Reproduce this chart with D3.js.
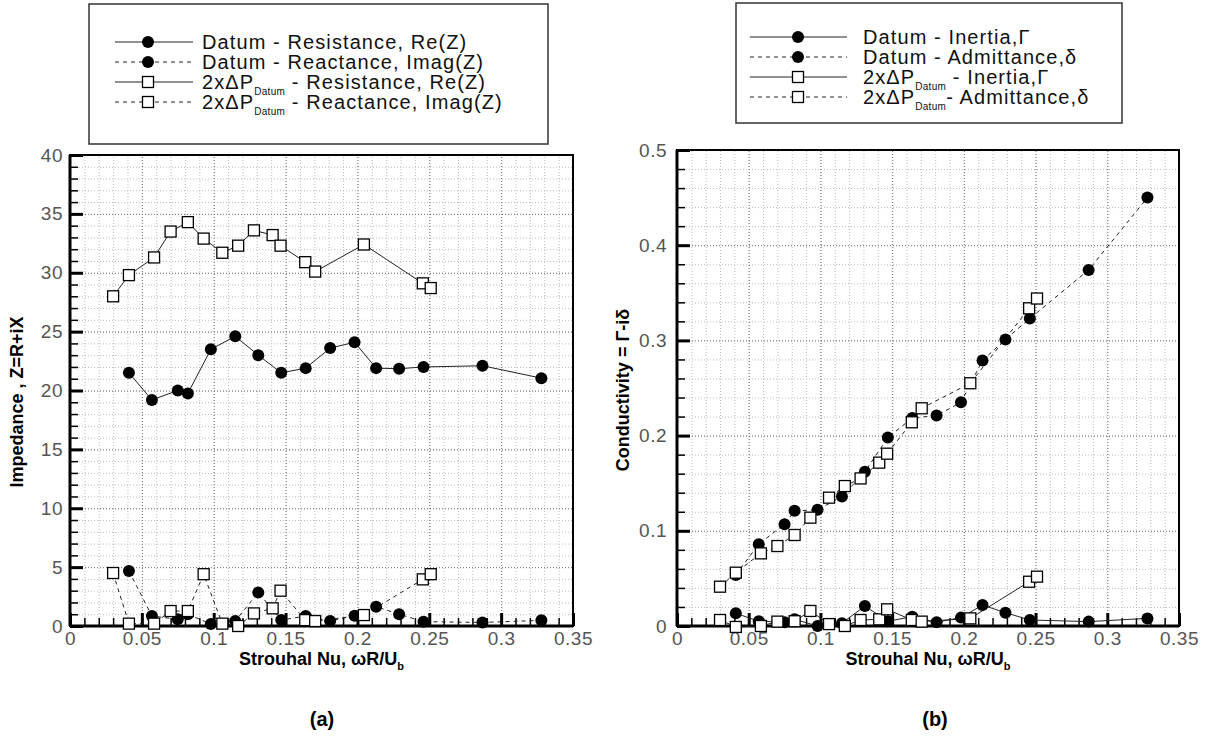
<!DOCTYPE html>
<html lang="en">
<head>
<meta charset="UTF-8">
<title>Impedance and Conductivity vs Strouhal</title>
<script src="https://cdn.jsdelivr.net/npm/d3@7/dist/d3.min.js"></script>
<style>
  body { margin: 0; background: #fff; }
  svg text { font-family: "Liberation Sans", Arial, sans-serif; }
</style>
</head>
<body>
<div id="container"></div>
<script>
// Datum case, Strouhal numbers
const stDatum = [0.041, 0.057, 0.075, 0.082, 0.098, 0.115, 0.131, 0.147, 0.164, 0.181, 0.198, 0.213, 0.229, 0.246, 0.287, 0.328];
const resDatum = [21.5, 19.2, 20.0, 19.75, 23.5, 24.6, 23.0, 21.5, 21.9, 23.6, 24.1, 21.9, 21.85, 22.0, 22.1, 21.05];
const reacDatum = [4.67, 0.85, 0.57, 1.0, 0.17, 0.42, 2.85, 0.5, 0.85, 0.42, 0.88, 1.64, 1.0, 0.37, 0.3, 0.48];
const inertiaDatum = [0.0133, 0.005, 0.004, 0.007, 0.0, 0.003, 0.021, 0.005, 0.0098, 0.004, 0.0088, 0.022, 0.014, 0.0063, 0.0046, 0.008];
const admitDatum = [0.0536, 0.086, 0.107, 0.121, 0.122, 0.136, 0.162, 0.198, 0.2185, 0.221, 0.235, 0.279, 0.301, 0.323, 0.374, 0.450];

// 2x dP_Datum case
const st2x = [0.030, 0.041, 0.0585, 0.070, 0.082, 0.093, 0.106, 0.117, 0.128, 0.141, 0.1465, 0.1637, 0.1706, 0.2045, 0.2455, 0.251];
const res2x = [28.0, 29.8, 31.3, 33.5, 34.3, 32.9, 31.7, 32.3, 33.6, 33.2, 32.3, 30.9, 30.1, 32.4, 29.1, 28.7];
const reac2x = [4.5, 0.2, 0.2, 1.27, 1.27, 4.4, 0.2, 0.0, 1.07, 1.5, 3.0, 0.5, 0.42, 0.93, 3.96, 4.4];
const inertia2x = [0.0063, -0.001, 0.0, 0.0046, 0.005, 0.0158, 0.002, 0.0, 0.0063, 0.007, 0.0175, 0.0063, 0.0046, 0.008, 0.0465, 0.0518];
const admit2x = [0.0413, 0.056, 0.0763, 0.084, 0.0956, 0.1138, 0.1348, 0.147, 0.155, 0.1716, 0.181, 0.214, 0.2287, 0.255, 0.3337, 0.344];

// tick values
const xTicks = [0, 0.05, 0.1, 0.15, 0.2, 0.25, 0.3, 0.35];
const xMinor = d3.range(0, 0.3501, 0.01);
const yTicksA = [0, 5, 10, 15, 20, 25, 30, 35, 40];
const yMinorA = d3.range(0, 40.01, 1);
const yTicksB = [0, 0.1, 0.2, 0.3, 0.4, 0.5];
const yMinorB = d3.range(0, 0.5001, 0.02);

const svg = d3.select('#container').append('svg')
    .attr('width', 1210).attr('height', 744);

function zip(xs, ys) { return xs.map((x, i) => ({ x: x, y: ys[i] })); }

function panel(o) {
    let x = d3.scaleLinear().domain([0, 0.35]).range([o.left, o.right]);
    let y = d3.scaleLinear().domain([0, o.ymax]).range([o.bottom, o.top]);
    let w = o.right - o.left, h = o.bottom - o.top;
    let g = svg.append('g');

    // grid
    let grid = (axis, cls, tr) => g.append('g').attr('transform', tr).call(axis)
        .call(s => s.select('.domain').remove())
        .call(s => s.selectAll('.tick line').attr('stroke', cls.c).attr('stroke-dasharray', cls.d));
    let minorStyle = { c: '#bdbdbd', d: '1,2' }, majorStyle = { c: '#777', d: '1,2' };
    grid(d3.axisBottom(x).tickValues(xMinor).tickSize(-h).tickFormat(''), minorStyle, `translate(0,${o.bottom})`);
    grid(d3.axisLeft(y).tickValues(o.yMinor).tickSize(-w).tickFormat(''), minorStyle, `translate(${o.left},0)`);
    grid(d3.axisBottom(x).tickValues(xTicks).tickSize(-h).tickFormat(''), majorStyle, `translate(0,${o.bottom})`);
    grid(d3.axisLeft(y).tickValues(o.yTicks).tickSize(-w).tickFormat(''), majorStyle, `translate(${o.left},0)`);

    // inward ticks
    let ticks = (axis, tr, sw) => g.append('g').attr('transform', tr).call(axis)
        .call(s => s.select('.domain').remove())
        .call(s => s.selectAll('.tick line').attr('stroke', '#000').attr('stroke-width', sw));
    ticks(d3.axisLeft(y).tickValues(o.yMinor).tickSize(-8).tickFormat(''), `translate(${o.left},0)`, 1.5);
    ticks(d3.axisBottom(x).tickValues(xMinor).tickSize(-8).tickFormat(''), `translate(0,${o.bottom})`, 1.5);
    ticks(d3.axisLeft(y).tickValues(o.yTicks).tickSize(-13).tickFormat(''), `translate(${o.left},0)`, 3);
    ticks(d3.axisBottom(x).tickValues(xTicks).tickSize(-13).tickFormat(''), `translate(0,${o.bottom})`, 3);

    // labels
    g.append('g').attr('transform', `translate(${o.left},0)`)
        .call(d3.axisLeft(y).tickValues(o.yTicks).tickSize(0).tickPadding(o.ypad).tickFormat(d3.format('')))
        .call(s => s.select('.domain').remove())
        .selectAll('text').attr('font-size', 19).attr('fill', '#555').attr('letter-spacing', 0.5)
        .attr('font-family', '"Liberation Sans", Arial, sans-serif');
    g.append('g').attr('transform', `translate(0,${o.bottom})`)
        .call(d3.axisBottom(x).tickValues(xTicks).tickSize(0).tickPadding(6).tickFormat(d3.format('')))
        .call(s => s.select('.domain').remove())
        .selectAll('text').attr('font-size', 19).attr('fill', '#555').attr('letter-spacing', 0.5)
        .attr('font-family', '"Liberation Sans", Arial, sans-serif');

    // frame
    g.append('rect').attr('x', o.left).attr('y', o.top).attr('width', w).attr('height', h)
        .attr('fill', 'none').attr('stroke', '#000').attr('stroke-width', 2);
    g.append('line').attr('x1', o.left).attr('x2', o.left).attr('y1', o.top).attr('y2', o.bottom)
        .attr('stroke', '#000').attr('stroke-width', 3);
    g.append('line').attr('x1', o.left).attr('x2', o.right).attr('y1', o.bottom).attr('y2', o.bottom)
        .attr('stroke', '#000').attr('stroke-width', 3);

    // series
    let line = d3.line().x(d => x(d.x)).y(d => y(d.y));
    o.series.forEach(s => {
        let data = zip(s.xs, s.ys);
        g.append('path').datum(data).attr('d', line).attr('fill', 'none')
            .attr('stroke', '#222').attr('stroke-width', 1)
            .attr('stroke-dasharray', s.dash ? '4,4' : null);
    });
    o.series.forEach(s => {
        let data = zip(s.xs, s.ys);
        if (s.filled) {
            g.selectAll(null).data(data).enter().append('circle')
                .attr('cx', d => x(d.x)).attr('cy', d => y(d.y)).attr('r', 6).attr('fill', '#000');
        } else {
            g.selectAll(null).data(data).enter().append('rect')
                .attr('x', d => x(d.x) - 5.5).attr('y', d => y(d.y) - 5.5).attr('width', 11).attr('height', 11)
                .attr('fill', '#fff').attr('stroke', '#000').attr('stroke-width', 1.3);
        }
    });

    // axis titles
    let xt = g.append('text').attr('x', (o.left + o.right) / 2).attr('y', 665)
        .attr('text-anchor', 'middle').attr('font-size', 18).attr('font-weight', 'bold');
    xt.append('tspan').text('Strouhal Nu, ωR/U');
    xt.append('tspan').attr('font-size', 11).attr('dy', 5).text('b');
    g.append('text').attr('transform', `translate(${o.ytx},${o.yty}) rotate(-90)`)
        .attr('text-anchor', 'middle').attr('font-size', 18).attr('font-weight', 'bold').text(o.ytitle);
    g.append('text').attr('x', o.tagx).attr('y', 726).attr('text-anchor', 'middle')
        .attr('font-size', 20).attr('font-weight', 'bold').text(o.tag);

    // legend
    let L = o.legend;
    g.append('rect').attr('x', L.x).attr('y', L.y).attr('width', L.w).attr('height', L.h)
        .attr('fill', '#fff').attr('stroke', '#333').attr('stroke-width', 1.5);
    o.series.forEach((s, i) => {
        let cy = L.row0 + i * L.dy;
        g.append('line').attr('x1', L.lx1).attr('x2', L.lx2).attr('y1', cy).attr('y2', cy)
            .attr('stroke', '#222').attr('stroke-width', 1).attr('stroke-dasharray', s.dash ? '4,4' : null);
        if (s.filled) g.append('circle').attr('cx', L.mx).attr('cy', cy).attr('r', 6).attr('fill', '#000');
        else g.append('rect').attr('x', L.mx - 5.5).attr('y', cy - 5.5).attr('width', 11).attr('height', 11)
            .attr('fill', '#fff').attr('stroke', '#000').attr('stroke-width', 1.3);
        let t = g.append('text').attr('x', L.tx).attr('y', cy + 7).attr('font-size', 20)
            .attr('letter-spacing', 1.1).attr('fill', '#111');
        if (s.sub) {
            t.append('tspan').text('2xΔP');
            t.append('tspan').attr('font-size', 10).attr('dy', 6).attr('letter-spacing', 0.3).text('Datum');
            t.append('tspan').attr('dy', -6).text(s.label);
        } else {
            t.text(s.label);
        }
    });
}

panel({
    left: 70, right: 573, top: 155, bottom: 626, ymax: 40,
    yTicks: yTicksA, yMinor: yMinorA, ypad: 7,
    ytitle: 'Impedance , Z=R+iX', ytx: 23, yty: 402, tag: '(a)', tagx: 322,
    legend: { x: 89, y: 4, w: 459, h: 140, row0: 42, dy: 20, lx1: 115, lx2: 193, mx: 148, tx: 202 },
    series: [
        { xs: stDatum, ys: resDatum, filled: true, dash: false, label: 'Datum - Resistance, Re(Z)' },
        { xs: stDatum, ys: reacDatum, filled: true, dash: true, label: 'Datum - Reactance, Imag(Z)' },
        { xs: st2x, ys: res2x, filled: false, dash: false, sub: true, label: ' - Resistance, Re(Z)' },
        { xs: st2x, ys: reac2x, filled: false, dash: true, sub: true, label: ' - Reactance, Imag(Z)' }
    ]
});

panel({
    left: 677, right: 1179, top: 150, bottom: 626, ymax: 0.5,
    yTicks: yTicksB, yMinor: yMinorB, ypad: 10,
    ytitle: 'Conductivity = Γ-iδ', ytx: 629, yty: 390, tag: '(b)', tagx: 935,
    legend: { x: 736, y: 3, w: 386, h: 120, row0: 37, dy: 20, lx1: 750, lx2: 847, mx: 798, tx: 863 },
    series: [
        { xs: stDatum, ys: inertiaDatum, filled: true, dash: false, label: 'Datum - Inertia,Γ' },
        { xs: stDatum, ys: admitDatum, filled: true, dash: true, label: 'Datum - Admittance,δ' },
        { xs: st2x, ys: inertia2x, filled: false, dash: false, sub: true, label: ' - Inertia,Γ' },
        { xs: st2x, ys: admit2x, filled: false, dash: true, sub: true, label: '- Admittance,δ' }
    ]
});
</script>
</body>
</html>
